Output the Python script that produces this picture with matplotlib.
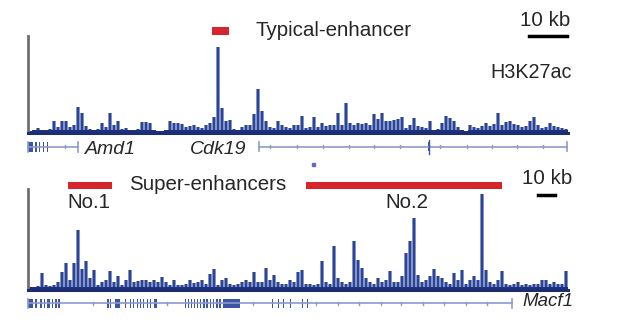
import numpy as np
import matplotlib
matplotlib.use("Agg")
import matplotlib.pyplot as plt
from matplotlib.patches import Rectangle

# H3K27ac signal, one value per bin (top: Amd1 / Cdk19 locus)
top_signal = [2, 3, 5, 3, 3, 4, 12, 6, 12, 12, 6, 8, 26, 20, 7, 4, 3, 4, 10, 6,
              20, 8, 12, 4, 5, 3, 3, 4, 11, 11, 10, 3, 2, 2, 3, 12, 10, 10, 9, 6,
              7, 8, 6, 5, 8, 10, 16, 86, 25, 12, 13, 4, 3, 6, 8, 8, 19, 44, 22, 12,
              6, 5, 12, 8, 6, 5, 8, 8, 17, 5, 6, 16, 6, 10, 7, 8, 8, 20, 8, 30,
              10, 8, 10, 9, 10, 8, 19, 14, 20, 12, 12, 13, 14, 16, 5, 8, 15, 7, 6, 5,
              12, 3, 4, 10, 17, 15, 12, 6, 3, 2, 8, 6, 5, 7, 10, 7, 9, 20, 8, 11,
              12, 9, 8, 6, 7, 12, 16, 8, 5, 6, 10, 7, 6, 5, 4]

# H3K27ac signal (bottom: Macf1 locus)
bottom_signal = [3, 3, 4, 17, 5, 4, 5, 8, 18, 27, 10, 27, 60, 21, 29, 12, 20, 5, 8, 10,
                 19, 8, 14, 5, 10, 20, 8, 9, 10, 10, 8, 10, 8, 13, 8, 5, 10, 5, 5, 6,
                 10, 7, 8, 10, 6, 16, 21, 5, 10, 12, 6, 5, 6, 8, 10, 8, 18, 8, 8, 22,
                 10, 15, 8, 6, 6, 10, 8, 18, 20, 6, 6, 5, 6, 29, 8, 6, 44, 12, 8, 6,
                 8, 49, 30, 22, 12, 8, 6, 12, 8, 10, 19, 8, 8, 14, 37, 49, 72, 15, 8, 10,
                 14, 21, 14, 12, 8, 6, 17, 10, 20, 6, 10, 14, 10, 96, 20, 8, 6, 10, 19, 6,
                 5, 6, 8, 5, 6, 5, 6, 6, 10, 10, 6, 8, 6, 6, 19]

# enhancer regions (bin start, bin end)
typical_enh = (45.5, 49.75)
super_enh = [(9.5, 20.5), (69.0, 118.0)]
super_names = ["No.1", "No.2"]

# gene models (bin coordinates)
amd1_span = (-0.5, 12.0)
amd1_exons = [(-0.5, 0.8), (1.3, 1.7), (2.3, 2.6), (3.2, 3.5), (4.2, 4.6)]
amd1_marks = [8.75]
cdk19_span = (57.3, 134.3)
cdk19_marks = [60.0, 66.8, 73.2, 79.8, 86.0, 92.5, 102.5, 109.2, 115.5, 121.8, 128.2]
cdk19_exons = [(99.6, 99.9)]

macf1_span = (-0.5, 120.5)
macf1_exons = [(-0.5, 0.75), (1.25, 1.75), (2.5, 3.0), (3.5, 3.8), (4.25, 5.0), (5.5, 5.8),
               (6.25, 6.75), (7.0, 7.5),
               (19.25, 19.75), (20.0, 20.3), (21.25, 22.5), (23.75, 24.0), (25.0, 25.3),
               (25.75, 26.0), (26.75, 27.0), (27.5, 27.8), (28.25, 28.5), (29.25, 29.5),
               (30.0, 30.3), (31.0, 31.75),
               (38.75, 39.0), (39.5, 39.75), (40.25, 40.5), (41.0, 41.25), (41.75, 42.0),
               (42.5, 42.75), (43.25, 43.75), (44.0, 44.5), (45.0, 45.25), (45.75, 46.0),
               (46.5, 47.0), (47.25, 47.75), (48.25, 52.5),
               (60.5, 60.8), (62.0, 62.3), (63.25, 63.5), (65.0, 65.3), (68.0, 68.3), (69.25, 69.5)]
macf1_marks = [15.75, 34.25, 55.75, 71.5, 77.0, 82.25, 87.75, 92.75, 98.25, 103.5, 109.0, 114.25]

W, H = 618, 327
NAVY = "#2a4393"
RED = "#d7262b"
GENE = "#3c55a5"
INTRON = "#8e9acb"
TXT = "#262626"
plt.rcParams["font.family"] = ["Liberation Sans", "DejaVu Sans"]

fig = plt.figure(figsize=(W / 100, H / 100), dpi=100)
fig.patch.set_facecolor("white")


def box(l, t, r, b):
    return [l / W, 1 - b / H, (r - l) / W, (b - t) / H]


def ftext(x, y, s, **kw):
    kw.setdefault("fontsize", 14.8)
    kw.setdefault("color", TXT)
    kw.setdefault("va", "center")
    fig.text(x / W, 1 - y / H, s, **kw)


def track(ax, signal, top):
    x = np.arange(len(signal))
    # lighter halo then the core spike
    ax.bar(x, signal, width=1.0, color="#8594c9", linewidth=0)
    ax.bar(x, signal, width=0.6, color=NAVY, linewidth=0)
    ax.bar(x, [min(v, 3) for v in signal], width=1.0, color="#1e317c", linewidth=0)
    ax.set_xlim(-0.5, len(signal) - 0.5)
    ax.set_ylim(0, top)
    for s in ["top", "right"]:
        ax.spines[s].set_visible(False)
    ax.spines["left"].set_color("#707070")
    ax.spines["left"].set_linewidth(2)
    ax.spines["bottom"].set_color("#1c2d72")
    ax.spines["bottom"].set_linewidth(2.2)
    ax.set_xticks([])
    ax.set_yticks([])
    ax.patch.set_alpha(0)


def gene(ax, span, exons, marks, y, h, end_ticks=True):
    ax.plot(span, [y, y], color=INTRON, lw=1.2, clip_on=False)
    for m in marks:
        ax.plot([m, m], [y - 1.5, y + 1.5], color=INTRON, lw=1, clip_on=False)
    if end_ticks:
        for e in span:
            ax.plot([e, e], [y - h / 2, y + h / 2], color=INTRON, lw=1.2, clip_on=False)
    for a, b in exons:
        ax.add_patch(Rectangle((a, y - h / 2), b - a, h, color=GENE, lw=0, clip_on=False))


ax1 = fig.add_axes(box(28, 36, 568, 133))
track(ax1, top_signal, 97)
ax2 = fig.add_axes(box(28, 189, 568, 290))
track(ax2, bottom_signal, 101)

# enhancer bars
a, b = typical_enh
ax1.add_patch(Rectangle((a, 98), b - a, 8, color=RED, lw=0, clip_on=False))
for (a, b) in super_enh:
    ax2.add_patch(Rectangle((a, 101), b - a, 7.5, color=RED, lw=0, clip_on=False))

# scale bars (10 kb)
ax1.plot([124.75, 134.25], [97, 97], color="black", lw=2.5, clip_on=False)
ax2.plot([127.0, 131.25], [95, 95], color="black", lw=2.5, clip_on=False)

# gene models
gene(ax1, amd1_span, amd1_exons, amd1_marks, -14, 10)
gene(ax1, cdk19_span, cdk19_exons, cdk19_marks, -14, 9)
ax1.plot([99.75, 99.75], [-21, -7], color=GENE, lw=1, clip_on=False)
gene(ax2, macf1_span, macf1_exons, macf1_marks, -13, 9)

# labels
ftext(255, 31, "Typical-enhancer")
ftext(520, 21, "10 kb")
ftext(490, 72, "H3K27ac", fontsize=14.2)
ftext(85, 149, "Amd1", style="italic", fontsize=14)
ftext(190, 149, "Cdk19", style="italic", fontsize=14)
ftext(129, 184, "Super-enhancers")
ftext(67, 202, super_names[0])
ftext(385, 202, super_names[1])
ftext(522, 178, "10 kb")
ftext(522, 302, "Macf1", style="italic", fontsize=13.5)
fig.patches.append(Rectangle((312 / W, 1 - 166 / H), 3 / W, 3 / H, color="#5b6fc2",
                             transform=fig.transFigure, figure=fig))

fig.savefig("out.png", dpi=100)
